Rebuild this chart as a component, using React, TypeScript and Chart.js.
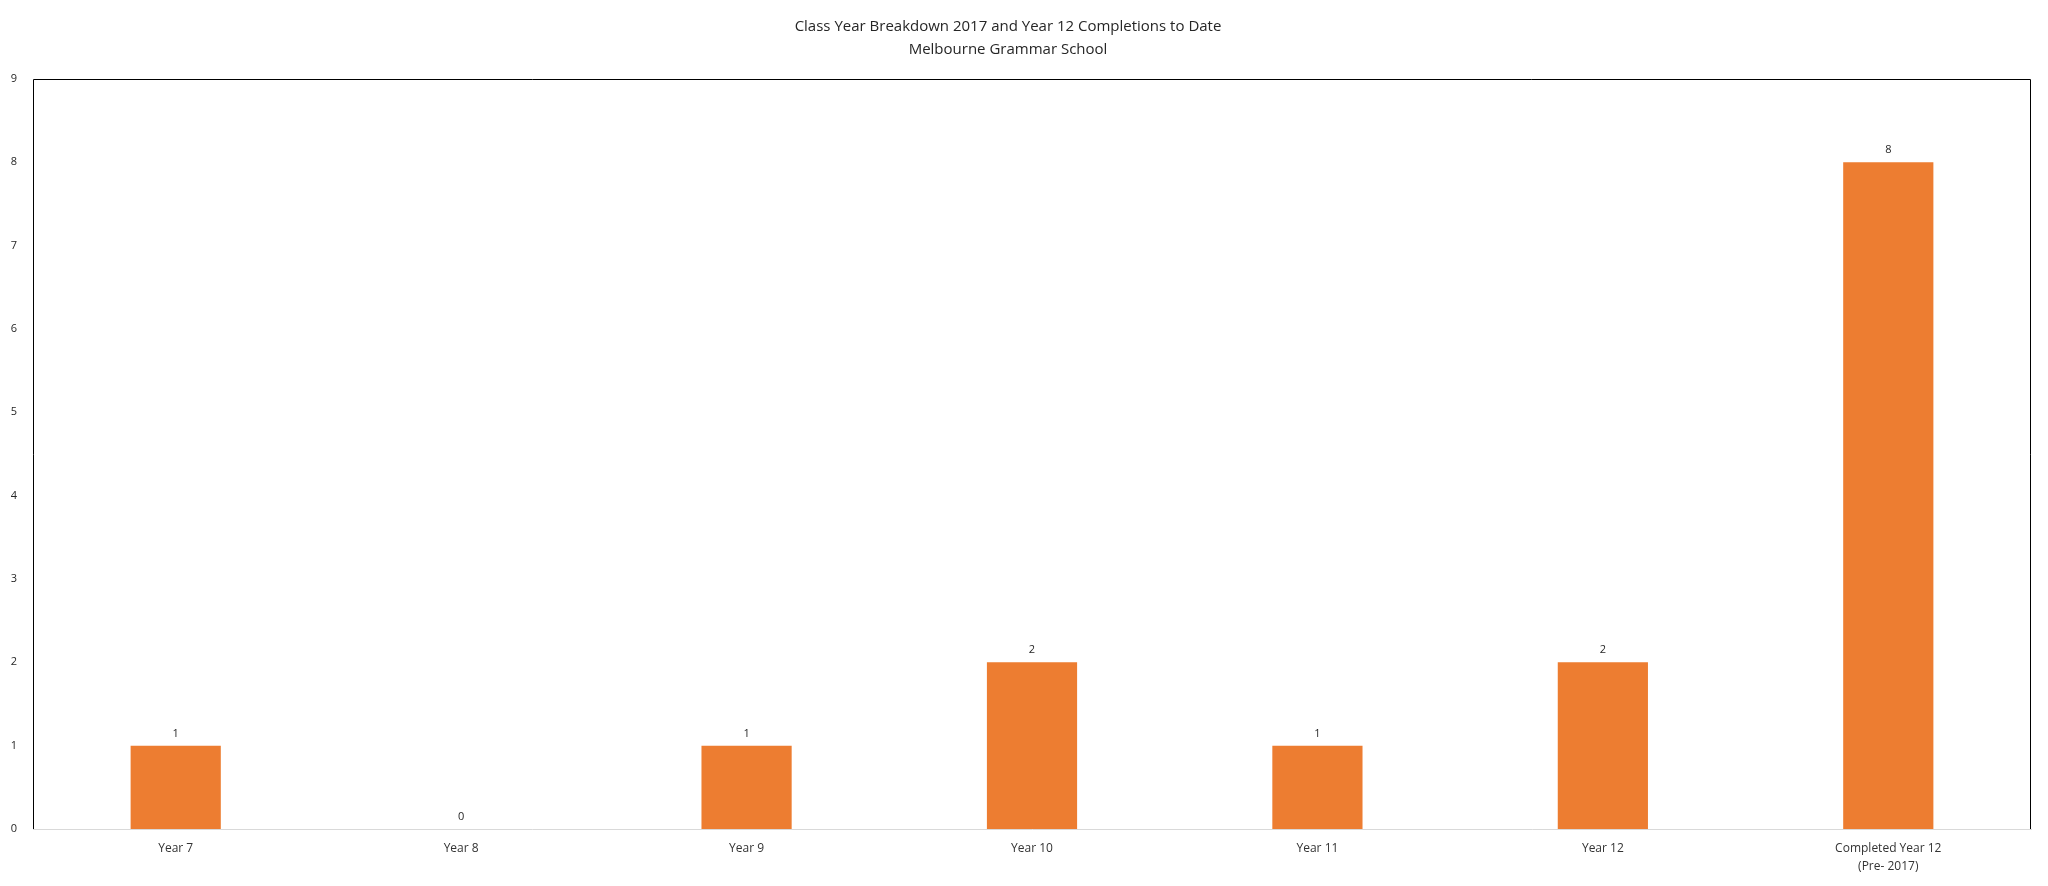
import React, { useEffect, useRef } from "react";
import { Chart, registerables } from "chart.js";

Chart.register(...registerables);

const categories: (string | string[])[] = [
  "Year 7",
  "Year 8",
  "Year 9",
  "Year 10",
  "Year 11",
  "Year 12",
  ["Completed Year 12", "(Pre- 2017)"],
];
const values: number[] = [1, 0, 1, 2, 1, 2, 8];
const titleLines: string[] = [
  "Class Year Breakdown 2017 and Year 12 Completions to Date",
  "Melbourne Grammar School",
];
const yMax = 9;
const barColor = "#ED7D31";
const FONT = "'Open Sans', 'Noto Sans', sans-serif";

const decorPlugin = {
  id: "decor",
  afterDraw(chart: any) {
    const { ctx, chartArea } = chart;
    const { left, right, top, bottom } = chartArea;
    ctx.save();
    ctx.strokeStyle = "#000";
    ctx.lineWidth = 1;
    ctx.beginPath();
    ctx.moveTo(left + 0.5, bottom);
    ctx.lineTo(left + 0.5, top + 0.5);
    ctx.lineTo(right - 0.5, top + 0.5);
    ctx.lineTo(right - 0.5, bottom);
    ctx.stroke();
    const meta = chart.getDatasetMeta(0);
    ctx.fillStyle = "#262626";
    ctx.font = `11px ${FONT}`;
    ctx.textAlign = "center";
    ctx.textBaseline = "middle";
    meta.data.forEach((bar: any, i: number) => {
      ctx.fillText(String(values[i]), bar.x, bar.y - 12);
    });
    ctx.fillStyle = "#262626";
    ctx.font = `15px ${FONT}`;
    titleLines.forEach((t, i) => {
      ctx.fillText(t, 1000, 19 + i * 23);
    });
    ctx.restore();
  },
};

export default function App() {
  const ref = useRef<HTMLCanvasElement>(null);
  useEffect(() => {
    if (!ref.current) return;
    const chart = new Chart(ref.current, {
      type: "bar",
      data: {
        labels: categories,
        datasets: [
          {
            data: values,
            backgroundColor: barColor,
            borderWidth: 0,
            categoryPercentage: 1,
            barPercentage: 0.316,
          },
        ],
      },
      options: {
        responsive: false,
        animation: false,
        layout: { padding: { top: 71, right: 9, left: 3, bottom: 0 } },
        plugins: {
          legend: { display: false },
          title: { display: false },
          tooltip: { enabled: false },
        },
        scales: {
          x: {
            grid: { display: false, drawTicks: false },
            border: { display: true, color: "#d9d9d9", width: 1 },
            ticks: {
              color: "#333333",
              font: { family: FONT, size: 12, lineHeight: 1.5 },
              padding: 11,
              maxRotation: 0,
              autoSkip: false,
            },
            afterFit: (scale: any) => {
              scale.height = 49;
            },
          },
          y: {
            min: 0,
            max: yMax,
            grid: { display: false, drawTicks: false },
            border: { display: false },
            ticks: {
              stepSize: 1,
              color: "#262626",
              font: { family: FONT, size: 11 },
              padding: 16,
            },
            afterFit: (scale: any) => {
              scale.width = 22;
            },
          },
        },
      },
      plugins: [decorPlugin],
    });
    return () => chart.destroy();
  }, []);
  return (
    <canvas
      ref={ref}
      width={2032}
      height={870}
      style={{ display: "block", width: 2032, height: 870 }}
    />
  );
}
